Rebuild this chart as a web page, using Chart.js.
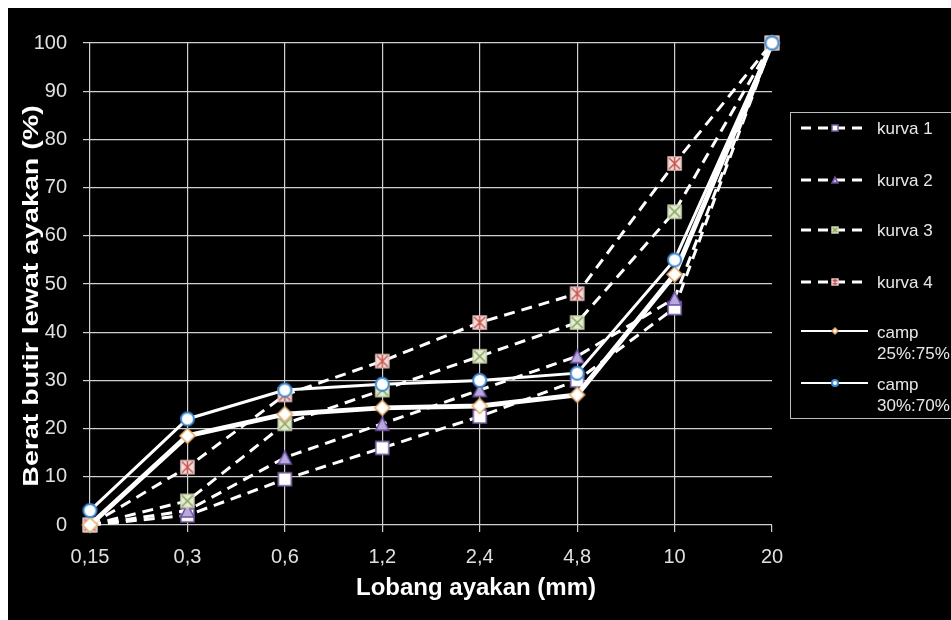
<!DOCTYPE html>
<html>
<head>
<meta charset="utf-8">
<script src="https://cdn.jsdelivr.net/npm/chart.js@4"></script>
<style>
  html, body { margin: 0; padding: 0; background: #fff; }
  body { width: 951px; height: 620px; overflow: hidden; position: relative; }
  #wrap { position: absolute; left: 8px; top: 8px; width: 943px; height: 612px; background: #000; }
</style>
</head>
<body>
<div id="wrap"><canvas id="chart"></canvas></div>
<script>
// sieve openings (mm) and passing percentages per curve
const sieves = ['0,15', '0,3', '0,6', '1,2', '2,4', '4,8', '10', '20'];
const kurva1 = [0, 2, 9.5, 16, 22.5, 30, 45, 100];
const kurva2 = [0, 3, 14, 21, 28, 35, 47, 100];
const kurva3 = [0, 5, 21, 28, 35, 42, 65, 100];
const kurva4 = [0, 12, 27, 34, 42, 48, 75, 100];
const camp25 = [0, 18.5, 23, 24.3, 24.7, 27, 52, 100];
const camp30 = [3, 22, 28, 29.2, 30, 31.5, 55, 100];
const seriesNames = [['kurva 1'], ['kurva 2'], ['kurva 3'], ['kurva 4'], ['camp', '25%:75%'], ['camp', '30%:70%']];
const yTicks = [0, 10, 20, 30, 40, 50, 60, 70, 80, 90, 100];
const xTitle = 'Lobang ayakan (mm)';
const yTitle = 'Berat butir lewat ayakan (%)';

const FONT = '"Liberation Sans", Arial, sans-serif';
const GRID = '#d0d0d0';

// small canvases used as marker symbols
function marker(kind, s) {
    const c = document.createElement('canvas');
    const pad = 2;
    c.width = c.height = s + pad * 2;
    const g = c.getContext('2d');
    const a = pad, b = pad + s, m = pad + s / 2;
    g.lineWidth = 1.5;
    if (kind === 'square') {
        g.fillStyle = '#ffffff'; g.strokeStyle = '#7a5fa8';
        g.fillRect(a, a, s, s); g.strokeRect(a, a, s, s);
    } else if (kind === 'triangle') {
        g.fillStyle = '#b9a8dc'; g.strokeStyle = '#6b4fa0';
        g.beginPath(); g.moveTo(m, a); g.lineTo(b, b); g.lineTo(a, b); g.closePath();
        g.fill(); g.stroke();
    } else if (kind === 'xbox') {
        g.fillStyle = '#e4ecd6'; g.strokeStyle = '#c9d6b0';
        g.fillRect(a, a, s, s); g.strokeRect(a, a, s, s);
        g.strokeStyle = '#8aa35a';
        g.beginPath(); g.moveTo(a + 1, a + 1); g.lineTo(b - 1, b - 1);
        g.moveTo(b - 1, a + 1); g.lineTo(a + 1, b - 1); g.stroke();
    } else if (kind === 'star') {
        g.fillStyle = '#f3dcdc'; g.strokeStyle = '#e6c4c4';
        g.fillRect(a, a, s, s); g.strokeRect(a, a, s, s);
        g.strokeStyle = '#c9584f';
        g.beginPath(); g.moveTo(a + 1, a + 1); g.lineTo(b - 1, b - 1);
        g.moveTo(b - 1, a + 1); g.lineTo(a + 1, b - 1);
        g.moveTo(m, a); g.lineTo(m, b); g.stroke();
    } else if (kind === 'diamond') {
        g.fillStyle = '#ffffff'; g.strokeStyle = '#e0a868';
        g.beginPath(); g.moveTo(m, a); g.lineTo(b, m); g.lineTo(m, b); g.lineTo(a, m); g.closePath();
        g.fill(); g.stroke();
    } else if (kind === 'circle') {
        g.fillStyle = '#ffffff'; g.strokeStyle = '#3c8ad6'; g.lineWidth = 2;
        g.beginPath(); g.arc(m, m, s / 2, 0, Math.PI * 2); g.fill(); g.stroke();
    }
    return c;
}

const kinds = ['square', 'triangle', 'xbox', 'star', 'diamond', 'circle'];
const bigMarkers = [marker('square', 13), marker('triangle', 13), marker('xbox', 13), marker('star', 13), marker('diamond', 15), marker('circle', 13)];
const smallMarkers = kinds.map(k => marker(k, 6));

function dashed(label, data, idx) {
    return {
        label, data,
        borderColor: '#ffffff', borderWidth: 3, borderDash: [11, 7],
        pointStyle: bigMarkers[idx], pointRadius: 7,
        tension: 0, clip: false, order: 6 - idx
    };
}

const datasets = [
    dashed('kurva 1', kurva1, 0),
    dashed('kurva 2', kurva2, 1),
    dashed('kurva 3', kurva3, 2),
    dashed('kurva 4', kurva4, 3),
    { label: 'camp 25%:75%', data: camp25, borderColor: '#ffffff', borderWidth: 5,
      pointStyle: bigMarkers[4], pointRadius: 8, tension: 0, clip: false, order: 2 },
    { label: 'camp 30%:70%', data: camp30, borderColor: '#ffffff', borderWidth: 3,
      pointStyle: bigMarkers[5], pointRadius: 7, tension: 0, clip: false, order: 1 }
];

// axis titles (y one is drawn a bit stretched along its length)
const axisTitles = {
    id: 'axisTitles',
    afterDraw(chart) {
        const ctx = chart.ctx;
        ctx.save();
        ctx.fillStyle = '#ffffff';
        ctx.textAlign = 'center';
        ctx.textBaseline = 'middle';
        ctx.font = 'bold 24px ' + FONT;
        ctx.fillText(xTitle, 468, 580);
        ctx.translate(24, 288);
        ctx.rotate(-Math.PI / 2);
        ctx.scale(1.3, 1);
        ctx.font = 'bold 22px ' + FONT;
        ctx.fillText(yTitle, 0, 0);
        ctx.restore();
    }
};

// legend box on the right side
const sideLegend = {
    id: 'sideLegend',
    afterDraw(chart) {
        const ctx = chart.ctx;
        ctx.save();
        ctx.strokeStyle = '#bdbdbd';
        ctx.lineWidth = 1;
        ctx.strokeRect(782.5, 104.5, 200, 306);
        const rows = [120, 172, 222, 274, 323, 375];
        ctx.font = '17px ' + FONT;
        ctx.fillStyle = '#e8e8e8';
        ctx.textBaseline = 'middle';
        rows.forEach((y, i) => {
            ctx.strokeStyle = '#ffffff';
            if (i < 4) {
                ctx.setLineDash([10, 7]);
                ctx.lineWidth = 3;
            } else {
                ctx.setLineDash([]);
                ctx.lineWidth = 2;
            }
            ctx.beginPath(); ctx.moveTo(793, y); ctx.lineTo(860, y); ctx.stroke();
            ctx.setLineDash([]);
            const mk = smallMarkers[i];
            ctx.drawImage(mk, 827 - mk.width / 2, y - mk.height / 2);
            const lines = seriesNames[i];
            if (lines.length === 1) {
                ctx.fillText(lines[0], 869, y + 1);
            } else {
                ctx.fillText(lines[0], 869, y + 2);
                ctx.fillText(lines[1], 869, y + 23);
            }
        });
        ctx.restore();
    }
};

new Chart(document.getElementById('chart'), {
    type: 'line',
    data: { labels: sieves, datasets },
    plugins: [sideLegend, axisTitles],
    options: {
        responsive: true,
        maintainAspectRatio: false,
        animation: false,
        layout: { padding: { left: 0, top: 35, right: 179, bottom: 0 } },
        plugins: { legend: { display: false }, tooltip: { enabled: false } },
        scales: {
            x: {
                offset: false,
                afterFit: s => { s.height = 95; },
                grid: {
                    color: c => (c.index === sieves.length - 1 ? 'rgba(0,0,0,0)' : GRID),
                    tickColor: GRID, tickLength: 7, lineWidth: 1.2
                },
                border: { display: false },
                ticks: { color: '#e0e0e0', font: { family: FONT, size: 20 }, padding: 13, maxRotation: 0 }
            },
            y: {
                min: 0, max: 100,
                afterFit: s => { s.width = 82; },
                afterBuildTicks: s => { s.ticks = yTicks.map(v => ({ value: v })); },
                grid: { color: GRID, tickColor: GRID, tickLength: 7, lineWidth: 1.2 },
                border: { display: false },
                ticks: { color: '#e0e0e0', font: { family: FONT, size: 20 }, padding: 16 }
            }
        }
    }
});
</script>
</body>
</html>
